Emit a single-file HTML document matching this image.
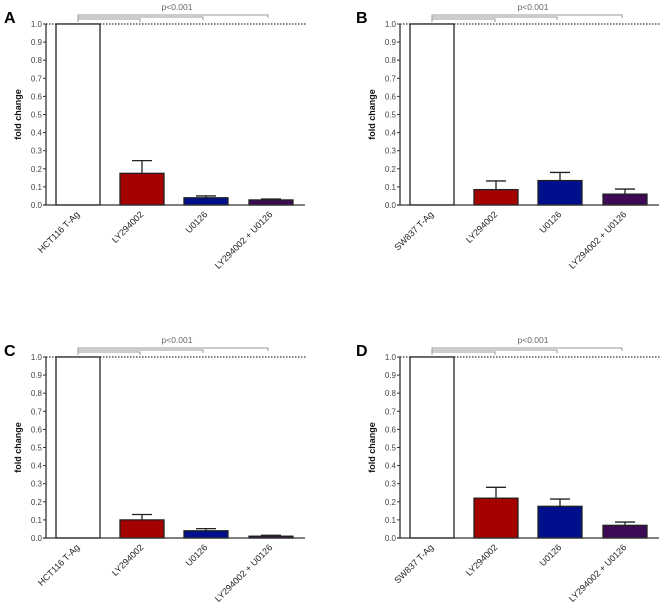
<!DOCTYPE html>
<html><head><meta charset="utf-8"><style>
body{margin:0;background:#fff;width:662px;height:606px;overflow:hidden}
svg{font-family:"Liberation Sans",Arial,sans-serif}
</style></head><body>
<svg id="fig" width="662" height="606"></svg>
<script>
const panelLetters=["A","B","C","D"];
const controlNames=["HCT116 T-Ag","SW837 T-Ag","HCT116 T-Ag","SW837 T-Ag"];
const treatments=["LY294002","U0126","LY294002 + U0126"];
const valsA=[1,0.175,0.04,0.028], errA=[0,0.07,0.01,0.005];
const valsB=[1,0.085,0.135,0.06], errB=[0,0.048,0.045,0.028];
const valsC=[1,0.1,0.04,0.01], errC=[0,0.03,0.012,0.005];
const valsD=[1,0.22,0.175,0.07], errD=[0,0.06,0.04,0.018];
const yTicks=[0,0.1,0.2,0.3,0.4,0.5,0.6,0.7,0.8,0.9,1.0];
const barColors=["#ffffff","#a50000","#000f8c","#3f0a55"];
const NS="http://www.w3.org/2000/svg";
const fig=document.getElementById('fig');
function mk(t,a,p){const e=document.createElementNS(NS,t);for(const k in a)e.setAttribute(k,a[k]);(p||fig).appendChild(e);return e;}
const panels=[
 {ox:46,oy:0,vals:valsA,errs:errA,bx:[56,120,184,249],br:[78,140,203,268],pc:177,lx:4},
 {ox:400,oy:0,vals:valsB,errs:errB,bx:[410,474,538,603],br:[432,495,557,622],pc:533,lx:356},
 {ox:46,oy:333,vals:valsC,errs:errC,bx:[56,120,184,249],br:[78,140,203,268],pc:177,lx:4},
 {ox:400,oy:333,vals:valsD,errs:errD,bx:[410,474,538,603],br:[432,495,557,622],pc:533,lx:356}];
panels.forEach((P,i)=>{
 const g=mk('g',{});
 
 
 const y0=205+P.oy, y1=24+P.oy;
 const ys=v=>y0-(y0-y1)*v;
 const bw=44, xEnd=P.bx[3]+bw+12;
 const lab=mk('text',{x:P.lx,y:P.oy+23,'font-size':16,'font-weight':'bold',fill:'#000'},g);lab.textContent=panelLetters[i];
 
 const dl=mk('line',{x1:P.ox,x2:xEnd+2,y1:ys(1),y2:ys(1),stroke:'#333','stroke-width':1.2,'stroke-dasharray':'1.5,1.5'},g);
 
 P.vals.forEach((v,j)=>{
  const x=P.bx[j], cx=x+bw/2;
  if(P.errs[j]>0){
   const e=mk('line',{x1:cx,x2:cx,y1:ys(v),y2:ys(v+P.errs[j]),stroke:'#222','stroke-width':1.3},g);
   
   const c=mk('line',{x1:cx-10,x2:cx+10,y1:ys(v+P.errs[j]),y2:ys(v+P.errs[j]),stroke:'#222','stroke-width':1.3},g);
   
  }
  const r=mk('rect',{x:x,y:ys(v),width:bw,height:y0-ys(v),fill:barColors[j],stroke:'#222','stroke-width':1.3},g);
  
  const name=j===0?controlNames[i]:treatments[j-1];
  const t=mk('text',{x:cx+2,y:y0+10,'font-size':9,fill:'#222','text-anchor':'end',transform:`rotate(-45 ${cx+2} ${y0+10})`},g);
  t.textContent=name;
 });
 const ya=mk('line',{x1:P.ox,x2:P.ox,y1:y1,y2:y0,stroke:'#333','stroke-width':1.3},g);
 
 const xa=mk('line',{x1:P.ox-3,x2:xEnd,y1:y0,y2:y0,stroke:'#333','stroke-width':1.3},g);
 
 yTicks.forEach(v=>{
  mk('line',{x1:P.ox-3,x2:P.ox,y1:ys(v),y2:ys(v),stroke:'#333','stroke-width':1},g);
  const t=mk('text',{x:P.ox-4,y:ys(v)+3,'font-size':8,fill:'#444','text-anchor':'end'},g);
  t.textContent=v.toFixed(1);
 });
 const yl=P.ox-25, ym=(y0+y1)/2;
 const yt=mk('text',{x:yl,y:ym,'font-size':9,'font-weight':'bold',fill:'#111','text-anchor':'middle',transform:`rotate(-90 ${yl} ${ym})`},g);
 yt.textContent='fold change';
 const by=[19,17,15];
 P.br.slice(1).forEach((ex,k)=>{
  const yy=P.oy+by[k];
  const b=mk('path',{d:`M${P.br[0]},${P.oy+22} V${yy} H${ex} V${yy+3}`,fill:'none',stroke:'#999','stroke-width':1},g);
  
 });
 const pt=mk('text',{x:P.pc,y:P.oy+10,'font-size':8.5,fill:'#666','text-anchor':'middle'},g);
 pt.textContent='p<0.001';
});
</script>
</body></html>
